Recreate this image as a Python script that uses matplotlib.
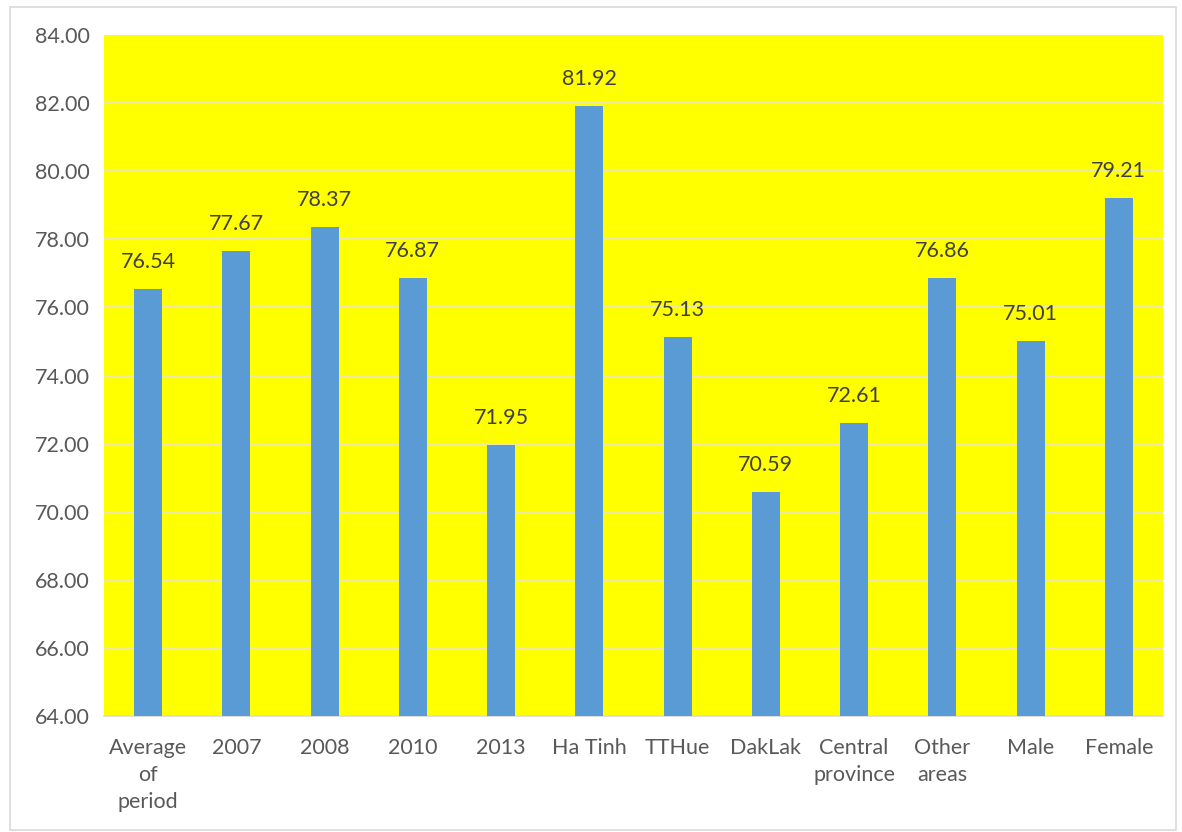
import matplotlib.pyplot as plt
from matplotlib.patches import Rectangle

categories = ['Average\nof\nperiod', '2007', '2008', '2010', '2013', 'Ha Tinh',
              'TTHue', 'DakLak', 'Central\nprovince', 'Other\nareas', 'Male', 'Female']
values = [76.54, 77.67, 78.37, 76.87, 71.95, 81.92, 75.13, 70.59, 72.61, 76.86, 75.01, 79.21]
y_ticks = [64, 66, 68, 70, 72, 74, 76, 78, 80, 82, 84]

plt.rcParams['font.family'] = ['Lato', 'DejaVu Sans']

fig = plt.figure(figsize=(11.82, 8.32), dpi=100)
ax = fig.add_axes([104 / 1182, 1 - 716 / 832, (1163 - 104) / 1182, (716 - 35) / 832])

ax.set_facecolor('#FFFF00')
x = range(len(categories))
bars = ax.bar(x, values, width=0.32, color='#5B9BD5', zorder=3)

ax.set_ylim(64, 84)
ax.set_xlim(-0.5, len(categories) - 0.5)
ax.set_yticks(y_ticks)
ax.set_yticklabels([f'{v:.2f}' for v in y_ticks], fontsize=15.5, color='#595959')
ax.set_xticks(list(x))
ax.set_xticklabels(categories, fontsize=15.5, color='#595959', linespacing=1.42)
ax.tick_params(axis='both', length=0)
ax.tick_params(axis='x', pad=16)
ax.tick_params(axis='y', pad=10)
ax.grid(axis='y', color='#E6E6C8', linewidth=1.2, zorder=1)

for s in ['top', 'right', 'left']:
    ax.spines[s].set_visible(False)
ax.spines['bottom'].set_color('#D9D9D9')
ax.spines['bottom'].set_linewidth(1.2)

for b, v in zip(bars, values):
    ax.text(b.get_x() + b.get_width() / 2, v + 0.5, f'{v:.2f}',
            ha='center', va='bottom', fontsize=15.5, color='#404040', zorder=4)

# outer chart frame
fig.patches.append(Rectangle((10 / 1182, 2 / 832), 1166 / 1182, 823 / 832,
                             transform=fig.transFigure, fill=False,
                             edgecolor='#D9D9D9', linewidth=1.2))

fig.savefig('out.png', dpi=100)
